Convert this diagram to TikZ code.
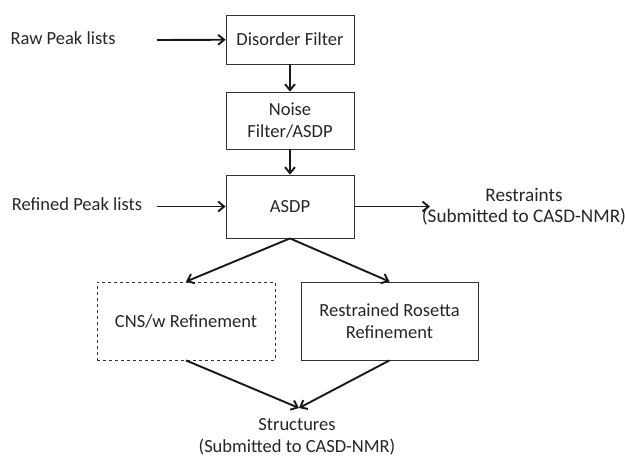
\documentclass[tikz,border=0pt]{standalone}
\usepackage{fontspec}
\setmainfont{Carlito}
\usetikzlibrary{arrows.meta,positioning}

\begin{document}
\begin{tikzpicture}[x=1pt,y=-1pt,
  font=\fontsize{18.5}{22}\selectfont,
  every node/.style={text=black!85},
  stage/.style={draw=black!80,line width=0.8pt,inner sep=0pt,align=center},
  lbl/.style={inner sep=0pt,align=center},
  flow/.style={-{Straight Barb[length=6pt,width=10pt]},line width=1.9pt,black!90}]
\useasboundingbox (0,0) rectangle (625,456);

% Input and filters
\node[lbl] (raw) at (63,38) {Raw Peak lists};
\coordinate (rawstart) at (157,40);
\node[stage,minimum width=128pt,minimum height=49pt] (disorder) at (290,39.5) {Disorder Filter};
\node[stage,minimum width=128pt,minimum height=57pt] (noise) at (290,120.5) {Noise\\Filter/ASDP};
\draw[flow] (rawstart) -- (disorder);
\draw[flow] (disorder) -- (noise);

% Assignment
\node[lbl] (refined) at (77,204) {Refined Peak lists};
\coordinate (refstart) at (157,206.5);
\node[stage,minimum width=128pt,minimum height=63pt] (asdp) at (290,206.5) {ASDP};
\coordinate (restend) at (430,206.5);
\node[lbl,font=\fontsize{19.2}{21}\selectfont] (restraints) at (524,207) {Restraints\\(Submitted to CASD-NMR)};
\draw[flow] (noise) -- (asdp);
\draw[flow] (refstart) -- (asdp);
\draw[flow] (asdp) -- (restend);

% Refinement
\node[stage,dashed,minimum width=178pt,minimum height=78pt] (cns) at (186,321) {CNS/w Refinement};
\node[stage,minimum width=177pt,minimum height=78pt] (rosetta) at (389.5,321) {Restrained Rosetta\\Refinement};
\draw[flow] (asdp.south) -- (cns.north);
\draw[flow] (asdp.south) -- (rosetta.north);

% Output
\node[lbl] (structures) at (297,437) {Structures\\(Submitted to CASD-NMR)};
\coordinate (meet) at (299,408);
\draw[flow] (cns.south) -- (meet);
\draw[flow] (rosetta.south) -- (meet);
\end{tikzpicture}
\end{document}
